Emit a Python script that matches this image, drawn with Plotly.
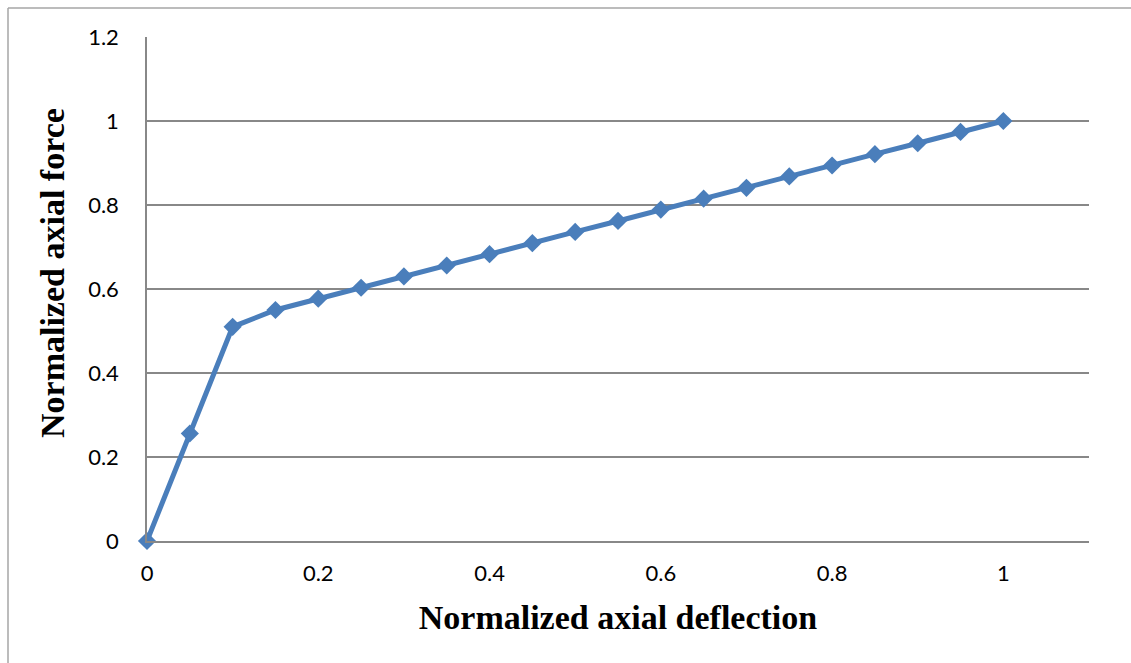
import plotly.graph_objects as go

# Normalized load-deflection response
deflection = [0.0, 0.05, 0.1, 0.15, 0.2, 0.25, 0.3, 0.35, 0.4, 0.45, 0.5,
              0.55, 0.6, 0.65, 0.7, 0.75, 0.8, 0.85, 0.9, 0.95, 1.0]
force = [0.0, 0.256, 0.51, 0.55, 0.577, 0.603, 0.63, 0.656, 0.683, 0.709, 0.736,
         0.762, 0.789, 0.815, 0.841, 0.868, 0.894, 0.921, 0.947, 0.974, 1.0]

x_ticks = [0, 0.2, 0.4, 0.6, 0.8, 1]
x_tick_labels = ["0", "0.2", "0.4", "0.6", "0.8", "1"]
y_ticks = [0, 0.2, 0.4, 0.6, 0.8, 1, 1.2]
y_tick_labels = ["0", "0.2", "0.4", "0.6", "0.8", "1", "1.2"]

W, H = 1131, 663
ML, MR, MT, MB = 147, 42, 37, 122
pw, ph = W - ML - MR, H - MT - MB

line_color = "#4A7EBB"
grid_color = "#888888"
tick_font = dict(family="Lato, Open Sans, sans-serif", size=22, color="#000000")
title_font = dict(family="Liberation Serif, DejaVu Serif, serif", size=34, color="#000000")


def px_to_paper_x(px):
    return (px - ML) / pw


def px_to_paper_y(py):
    return (H - MB - py) / ph


fig = go.Figure()
fig.add_trace(go.Scatter(
    x=deflection, y=force, mode="lines+markers",
    line=dict(color=line_color, width=5),
    marker=dict(symbol="diamond", size=14, color=line_color),
    showlegend=False, cliponaxis=False,
))

# outer chart-area frame (left and top edges)
frame_color = "#A6A6A6"
fig.add_shape(type="line", xref="paper", yref="paper",
              x0=px_to_paper_x(8), x1=px_to_paper_x(8),
              y0=px_to_paper_y(8), y1=px_to_paper_y(H + 5),
              line=dict(color=frame_color, width=1.5))
fig.add_shape(type="line", xref="paper", yref="paper",
              x0=px_to_paper_x(8), x1=px_to_paper_x(W + 5),
              y0=px_to_paper_y(8), y1=px_to_paper_y(8),
              line=dict(color=frame_color, width=1.5))

# vertical axis title, placed slightly above the plot centre
fig.add_annotation(
    text="<b>Normalized axial force</b>", font=title_font, textangle=-90,
    xref="paper", yref="paper", x=px_to_paper_x(52), y=px_to_paper_y(273),
    xanchor="center", yanchor="middle", showarrow=False,
)

fig.update_layout(
    width=W, height=H,
    margin=dict(l=ML, r=MR, t=MT, b=MB),
    paper_bgcolor="white", plot_bgcolor="white",
    xaxis=dict(
        range=[0, 1.1], tickmode="array", tickvals=x_ticks, ticktext=x_tick_labels,
        showgrid=False, zeroline=False, showline=True, linecolor=grid_color, linewidth=1.5,
        tickfont=tick_font, ticks="", ticklabelstandoff=12,
        title=dict(text="<b>Normalized axial deflection</b>", font=title_font, standoff=20),
    ),
    yaxis=dict(
        range=[0, 1.2], tickmode="array", tickvals=y_ticks, ticktext=y_tick_labels,
        showgrid=True, gridcolor=grid_color, gridwidth=1.5,
        zeroline=False, showline=True, linecolor=grid_color, linewidth=1.5,
        tickfont=tick_font, ticks="", ticklabelstandoff=22,
    ),
)

fig.write_html("out.html")
